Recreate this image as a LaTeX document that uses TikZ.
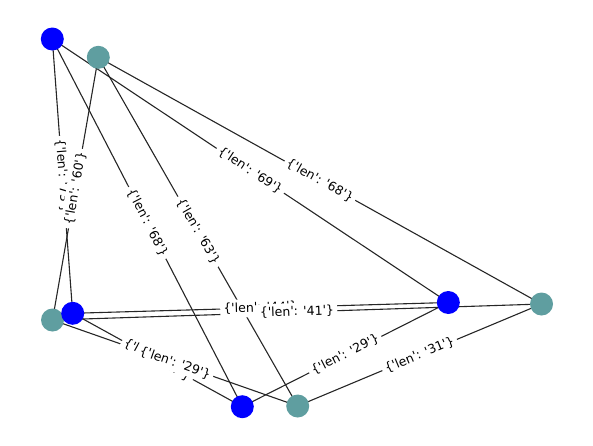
\documentclass[tikz,border=0pt]{standalone}
\usepackage{fontspec}
\newfontfamily\labfont{DejaVu Sans}
\usetikzlibrary{backgrounds}
\definecolor{nblue}{RGB}{0,0,255}
\definecolor{nteal}{RGB}{95,158,160}
\tikzset{
  vtx/.style={circle, minimum size=23pt, inner sep=0pt, draw=none},
  bv/.style={vtx, fill=nblue},
  tv/.style={vtx, fill=nteal},
  edge/.style={draw=black!85, line width=1.1pt},
  lab/.style={midway, sloped, fill=white, rounded corners=3pt, inner sep=3.2pt,
    font=\labfont\fontsize{12.5}{13}\selectfont, text=black}
}
\begin{document}
\begin{tikzpicture}[x=1pt,y=-1pt]
\useasboundingbox (0,0) rectangle (593,445);
% nodes
\node[bv] (b1) at (52.3,39) {};
\node[tv] (t1) at (98.3,57.3) {};
\node[tv] (t2) at (52.5,320) {};
\node[bv] (b2) at (72.7,313.3) {};
\node[bv] (b3) at (448.3,302.5) {};
\node[tv] (t3) at (541.5,304) {};
\node[bv] (b4) at (242.3,406.7) {};
\node[tv] (t4) at (297.7,406) {};
% edges
\begin{pgfonlayer}{background}
\draw[edge] (b1.center) -- (b2.center);
\draw[edge] (b1.center) -- (b3.center);
\draw[edge] (b1.center) -- (b4.center);
\draw[edge] (b2.center) -- (b3.center);
\draw[edge] (b2.center) -- (b4.center);
\draw[edge] (b3.center) -- (b4.center);
\draw[edge] (t1.center) -- (t2.center);
\draw[edge] (t1.center) -- (t3.center);
\draw[edge] (t1.center) -- (t4.center);
\draw[edge] (t2.center) -- (t3.center);
\draw[edge] (t2.center) -- (t4.center);
\draw[edge] (t3.center) -- (t4.center);
\end{pgfonlayer}
% edge labels
\path (b1.center) -- (b2.center) node[lab] {\{'len': '73'\}};
\path (b1.center) -- (b3.center) node[lab] {\{'len': '69'\}};
\path (b1.center) -- (b4.center) node[lab] {\{'len': '68'\}};
\path (b2.center) -- (b3.center) node[lab] {\{'len': '44'\}};
\path (b2.center) -- (b4.center) node[lab] {\{'len': '27'\}};
\path (b3.center) -- (b4.center) node[lab] {\{'len': '29'\}};
\path (t1.center) -- (t2.center) node[lab] {\{'len': '60'\}};
\path (t1.center) -- (t3.center) node[lab] {\{'len': '68'\}};
\path (t1.center) -- (t4.center) node[lab] {\{'len': '63'\}};
\path (t2.center) -- (t3.center) node[lab] {\{'len': '41'\}};
\path (t2.center) -- (t4.center) node[lab] {\{'len': '29'\}};
\path (t3.center) -- (t4.center) node[lab] {\{'len': '31'\}};
\end{tikzpicture}
\end{document}
